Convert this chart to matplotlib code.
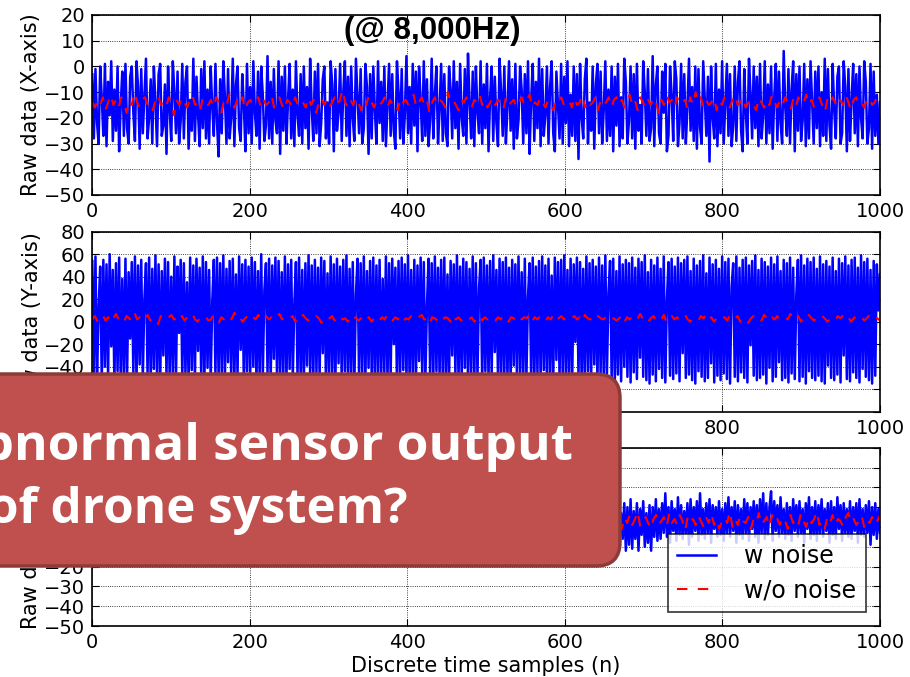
import numpy as np
import matplotlib
matplotlib.use("Agg")
import matplotlib.pyplot as plt
from matplotlib import font_manager
from matplotlib.patches import FancyBboxPatch

# accelerometer samples, 500 points per axis (w noise), 300 points (w/o noise)
x_noise = [
    -3, -28, -1, -22, -30, 0, -12, -27, 1, -31, -6, -19, 2, -29, -9, -25, 0, -33, -15, -2,
    -27, 1, -24, -30, -4, 0, -18, -29, 2, -8, -32, -1, -26, -11, 3, -28, -20, -5, -30, 0,
    -14, -31, -3, 1, -27, -23, -7, -34, 0, -17, -29, 2, -10, -26, -2, -30, -21, 1, -28, -6,
    0, -32, -13, -25, 3, -29, -4, -19, -31, -1, -24, 2, -28, -9, -30, 0, -16, -27, 1, -22,
    -35, -5, -26, 2, -12, -30, -1, -28, -20, 3, -31, -7, 0, -24, -29, -3, -15, -33, 1, -26,
    -8, -30, 2, -18, -27, -2, -32, 0, -11, -29, -23, 4, -28, -6, -30, -1, -21, -26, 2, -34,
    -4, -25, 0, -30, -13, 1, -28, -9, -31, 2, -19, -27, -3, -30, 0, -24, -8, -32, 3, -16,
    -29, -2, -26, 1, -31, -22, -5, 0, -28, -14, -30, 2, -7, -33, -1, -25, -18, 1, -29, -10,
    2, -27, -4, -31, 0, -20, -29, 3, -12, -26, -1, -30, -24, 1, -8, -34, -3, -28, 0, -17,
    -30, 2, -22, -6, -29, 0, -31, -15, 1, -27, -3, -25, -32, 2, -10, -28, -1, -30, -19, 4,
    -26, -8, -30, 1, -23, -2, -33, 0, -13, -29, 2, -27, -5, -31, -21, 3, -28, -11, 0, -30,
    -17, 1, -29, -3, -26, -31, 0, -9, -28, 2, -24, -6, -32, 1, -20, -27, -1, -30, 5, -14,
    -28, -2, -31, 0, -18, -26, 2, -30, -7, -24, 1, -33, -12, 0, -29, -4, -22, -31, 3, -10,
    -27, 0, -30, -16, 2, -25, -5, -32, 1, -28, -21, 0, -9, -30, -3, -26, 2, -34, -13, 1,
    -29, -6, -24, 3, -31, -1, -27, -19, 0, -30, -8, 2, -26, -33, -2, -15, -28, 1, -30, -4,
    -22, 2, -31, -11, -27, 0, -29, -3, -36, 1, -20, -28, -5, 3, -30, -14, -25, 0, -32, -7,
    1, -26, -2, -30, -17, 2, -29, -9, -27, 0, -33, -4, -23, 1, -31, -12, -28, 3, -6, -30,
    -21, 0, -28, -3, -32, 1, -25, -15, -30, 2, -10, -27, -1, -29, -24, 4, -31, -7, 0, -26,
    -30, -2, -18, 1, -33, -27, 0, -11, -29, 2, -5, -31, -22, 1, -28, -3, -30, -16, 3, -25,
    -8, -29, 0, -32, -1, -24, -30, 2, -13, -27, -4, -37, 0, -20, -28, 1, -31, -9, -26, 2,
    -30, -14, 1, -27, -3, -31, -23, 0, -29, -6, 2, -25, -33, -1, -18, -30, 3, -11, -28, 0,
    -24, -4, -31, 1, -28, -19, 2, -30, -7, -26, 0, -32, -12, 1, -29, -2, -22, -30, 6, -16,
    -27, -1, -30, -9, 2, -33, -3, -25, 0, -29, -21, 1, -31, -5, -28, 2, -14, -30, -2, -24,
    0, -31, -10, -27, 3, -29, -1, -23, -32, 1, -17, -28, -4, 0, -30, -26, 2, -8, -33, -1,
    -29, -13, 1, -26, -3, -31, 0, -20, -28, 2, -6, -30, -24, 1, -32, -2, -27, -11, -30, -14,
]
x_clean = [
    -14, -16, -13, -15, -12, -17, -14, -11, -15, -13,
    -16, -12, -14, -18, -13, -15, -10, -14, -16, -13,
    -12, -15, -14, -17, -13, -11, -15, -14, -16, -12,
    -14, -19, -13, -15, -12, -14, -16, -13, -11, -15,
    -14, -17, -12, -14, -15, -13, -16, -12, -14, -18,
    -13, -15, -11, -14, -16, -13, -15, -12, -17, -14,
    -13, -15, -14, -12, -16, -13, -15, -14, -11, -16,
    -14, -12, -15, -17, -13, -14, -16, -12, -15, -13,
    -14, -16, -12, -15, -13, -18, -14, -12, -15, -13,
    -16, -14, -12, -15, -13, -9, -14, -16, -13, -15,
    -12, -14, -17, -13, -15, -11, -14, -16, -13, -15,
    -14, -12, -16, -13, -15, -14, -17, -12, -14, -13,
    -15, -13, -11, -16, -14, -12, -15, -13, -18, -14,
    -12, -15, -13, -14, -16, -10, -14, -13, -15, -17,
    -13, -14, -12, -15, -16, -13, -14, -11, -15, -13,
    -16, -14, -12, -15, -13, -14, -17, -12, -15, -14,
    -13, -16, -14, -12, -15, -13, -11, -16, -14, -15,
    -12, -14, -16, -13, -15, -17, -13, -14, -12, -15,
    -14, -13, -16, -12, -15, -14, -11, -16, -13, -15,
    -14, -12, -17, -13, -15, -14, -12, -16, -13, -12,
    -15, -13, -16, -14, -11, -15, -13, -17, -12, -14,
    -16, -13, -15, -12, -14, -18, -13, -15, -11, -14,
    -13, -16, -12, -15, -14, -13, -17, -12, -15, -10,
    -14, -12, -16, -13, -15, -14, -12, -17, -13, -15,
    -12, -14, -16, -13, -11, -15, -14, -12, -16, -14,
    -13, -15, -17, -12, -14, -16, -13, -15, -11, -14,
    -16, -13, -15, -12, -14, -17, -13, -16, -12, -15,
    -14, -11, -15, -13, -16, -14, -12, -15, -18, -13,
    -15, -12, -14, -16, -13, -15, -11, -14, -17, -13,
    -12, -15, -14, -16, -13, -12, -15, -14, -11, -13,
]

y_noise = [
    54, -47, 58, -50, 12, 49, -53, 55, -40, 51, -49, 60, -22, 46, -55, 52, -44, 57, -51, 38,
    -48, 56, -52, 44, -15, 53, -46, 58, -54, 50, -38, 55, -50, 20, 52, -47, 57, -53, 47, -42,
    59, -49, 51, -55, 45, -30, 56, -48, 53, -51, 40, -45, 58, -53, 49, -10, 55, -50, 52, -47,
    35, -54, 57, -43, 50, -52, 56, -26, 48, -49, 58, -55, 53, -41, 46, -51, 18, 55, -48, 57,
    -50, 52, -45, 59, -53, 47, -36, 54, -49, 56, -52, 42, -47, 58, -25, 51, -54, 55, -44, 49,
    -51, 57, -40, 53, -55, 45, -48, 60, -50, 28, 52, -46, 56, -53, 50, -33, 57, -49, 54, -52,
    44, -47, 58, -54, 51, -42, 55, -50, 16, 53, -48, 57, -51, 46, -55, 52, -39, 59, -46, 50,
    -53, 55, -45, 48, -50, 57, -28, 54, -52, 43, -49, 58, -47, 51, -54, 56, -37, 49, -51, 55,
    -44, 59, -53, 47, -48, 53, -55, 24, 56, -50, 52, -46, 58, -52, 45, -41, 54, -49, 57, -54,
    50, -47, 55, -51, 38, -45, 58, -53, 52, -49, 56, -20, 48, -55, 54, -48, 57, -43, 51, -50,
    59, -52, 46, -47, 55, -54, 50, -35, 57, -49, 53, -51, 14, 56, -46, 52, -53, 58, -44, 48,
    -50, 55, -48, 57, -55, 42, -52, 54, -30, 51, -47, 59, -53, 49, -50, 56, -41, 53, -54, 47,
    -46, 58, -51, 52, -49, 30, 55, -55, 57, -44, 50, -52, 54, -48, 59, -27, 46, -50, 56, -53,
    53, -47, 57, -52, 48, -54, 55, -39, 51, -49, 58, -45, 44, -53, 56, -50, 22, 52, -48, 57,
    -55, 49, -46, 54, -51, 58, -43, 50, -53, 56, -48, 41, -52, 57, -34, 53, -50, 55, -47, 59,
    -52, 46, -49, 56, -54, 51, -18, 57, -48, 53, -55, 47, -50, 58, -44, 52, -51, 55, -38, 49,
    -53, 57, -46, 50, -52, 59, -48, 26, 54, -50, 56, -55, 45, -47, 58, -53, 51, -40, 55, -49,
    52, -54, 57, -45, 48, -51, 56, -32, 53, -49, 59, -52, 44, -55, 55, -47, 50, -53, 57, -42,
    47, -50, 58, -54, 19, 53, -48, 56, -51, 49, -46, 57, -53, 52, -28, 55, -50, 58, -47, 45,
    -52, 56, -55, 50, -44, 54, -49, 59, -53, 43, -50, 57, -37, 51, -54, 55, -48, 47, -52, 58,
    -46, 53, -51, 56, -55, 31, 52, -49, 58, -53, 48, -45, 55, -50, 57, -54, 50, -21, 54, -48,
    59, -52, 46, -50, 56, -47, 53, -55, 49, -41, 57, -53, 51, -49, 58, -36, 45, -52, 55, -50,
    52, -54, 57, -46, 48, -51, 25, 55, -53, 59, -49, 50, -55, 56, -44, 53, -50, 57, -52, 47,
    -48, 58, -53, 51, -55, 54, -39, 49, -50, 57, -52, 45, -47, 56, -54, 52, -30, 58, -51, 50,
    -53, 55, -45, 57, -50, 48, -54, 59, -42, 53, -49, 56, -52, 46, -55, 54, -48, 51, 10, 42,
]
y_clean = [
    2, 5, 0, 3, 6, 1, 4, -1, 3, 7,
    2, 4, 0, 5, 3, 1, 8, 2, 4, 0,
    3, 6, 1, 4, 2, -2, 5, 3, 1, 4,
    6, 2, 3, 0, 5, 1, 4, 3, 7, 2,
    0, 4, 3, 5, 1, 2, 6, 3, -1, 4,
    2, 5, 1, 3, 8, 2, 4, 0, 3, 5,
    1, 4, 2, 6, 3, 0, 5, 2, 4, 1,
    3, 7, 2, 4, 1, 3, 5, 0, 4, 2,
    6, 3, 1, 4, 2, 5, 3, -1, 4, 2,
    3, 5, 1, 4, 6, 2, 3, 0, 5, 2,
    4, 1, 3, 6, 2, 4, 0, 3, 5, 1,
    4, 2, 7, 3, 1, 4, 2, 5, 0, 3,
    2, 5, 3, 1, 4, 6, 2, 3, -2, 4,
    3, 1, 5, 2, 4, 3, 0, 6, 2, 4,
    1, 3, 5, 2, 4, 0, 3, 6, 1, 4,
    2, 5, 3, 1, 4, 2, 6, 3, 0, 4,
    3, 1, 5, 2, 4, 3, 7, 1, 4, 2,
    5, 3, 0, 4, 2, 6, 1, 3, 5, 2,
    4, 1, 3, 5, 2, 4, 0, 6, 3, 2,
    4, 1, 5, 3, 2, 4, 6, 2, 3, 1,
    3, 6, 0, 4, 2, 5, 1, 3, 7, 2,
    4, 0, 3, 5, 1, 4, 2, 6, -1, 3,
    5, 2, 4, 1, 3, 6, 2, 0, 4, 3,
    1, 5, 3, 7, 2, 4, 0, 3, 5, 2,
    4, 1, 6, 2, 3, 5, 0, 4, 2, -1,
    3, 5, 2, 4, 1, 6, 3, 0, 4, 2,
    5, 1, 3, 4, 2, 7, 1, 3, 5, 0,
    4, 2, 6, 3, 1, 4, 2, 5, 3, 0,
    2, 4, 1, 5, 3, 6, 2, 4, 0, 3,
    5, 2, 4, 1, 3, 6, 2, 4, 3, 1,
]

z_noise = [
    9, -4, 12, -6, 3, 10, -8, 6, -2, 13, -5, 8, -9, 11, 0, -6, 14, -3, 7, -7,
    10, -1, 12, -8, 5, -4, 15, -6, 9, -10, 7, 1, -5, 13, -3, 8, -7, 11, -2, 6,
    -9, 12, -4, 9, -6, 14, 0, -8, 10, -3, 7, -11, 13, -5, 8, 2, -7, 11, -4, 9,
    -2, 15, -6, 8, -9, 12, -3, 6, -5, 13, 1, -8, 10, -4, 11, -7, 7, -1, 14, -6,
    8, -10, 12, -3, 9, -5, 16, -7, 6, -2, 11, -9, 13, 0, -6, 10, -4, 8, -8, 12,
    -3, 9, -7, 14, -5, 7, -1, 11, -10, 13, -4, 8, -6, 12, 2, -8, 10, -3, 15, -5,
    6, -9, 11, -2, 9, -7, 13, -4, 8, -11, 12, 0, -6, 10, -3, 14, -8, 7, -5, 11,
    -1, 13, -7, 9, -4, 12, -9, 6, -2, 15, -6, 10, -5, 8, -10, 12, -3, 11, 1, -7,
    14, -4, 8, -8, 11, -2, 13, -6, 7, -9, 10, -3, 16, -5, 9, -7, 12, 0, -4, 11,
    -8, 10, -5, 13, -2, 7, -10, 12, -4, 9, -6, 14, -1, 8, -7, 11, -3, 13, -9, 6,
    12, -5, 10, -8, 15, -3, 7, -6, 11, 0, -9, 13, -4, 9, -7, 12, -2, 8, -11, 14,
    -4, 9, -6, 12, -1, 10, -8, 13, -3, 7, -10, 11, -5, 15, -2, 8, -7, 12, -4, 10,
    -6, 13, -3, 9, -9, 11, 1, -5, 14, -7, 8, -2, 12, -6, 10, -4, 13, -8, 9, -3,
    11, -7, 15, -4, 8, -10, 12, -2, 9, -6, 13, -5, 7, -9, 11, -1, 14, -4, 10, -8,
    12, -3, 8, -7, 13, -5, 10, -2, 16, -6, 9, -8, 11, -4, 7, -10, 14, 0, -5, 12,
    -7, 9, -3, 13, -9, 11, -5, 8, -1, 14, -6, 10, -8, 12, -4, 15, -2, 9, -11, 13,
    -5, 8, -9, 12, -3, 10, -7, 14, -4, 9, -10, 11, -2, 13, -8, 7, -6, 12, -12, 10,
    -9, 14, -11, 8, -6, 12, -12, 9, -4, 13, -10, 7, -8, 11, -12, 10, -5, 14, -7, 9,
    -6, 12, -3, 17, -5, 10, -8, 13, -2, 9, -7, 15, -4, 11, -6, 8, -3, 12, -9, 14,
    -5, 10, -2, 13, -7, 17, -4, 9, -6, 12, -3, 14, -8, 11, -1, 10, -5, 13, -4, 9,
    -7, 12, -3, 15, -5, 10, -2, 13, -8, 11, -4, 9, -6, 14, -3, 12, -7, 10, -1, 13,
    -5, 11, -8, 14, -3, 17, -6, 12, -4, 10, 18, -7, 13, -2, 11, -5, 15, -3, 9, -6,
    12, -4, 10, -7, 14, -2, 11, -5, 13, -3, 9, -8, 12, -1, 15, -6, 10, -4, 13, -7,
    11, -3, 14, -5, 9, -2, 12, -8, 13, -4, 10, -6, 15, -1, 11, -7, 12, -3, 9, -5,
    13, -6, 10, -2, 12, -8, 14, -4, 9, -5, 11, -3, 13, -9, 10, -4, 12, -6, 9, -3,
]
z_clean = [
    3, 0, 5, 2, -1, 4, 6, 1, 3, -2,
    5, 2, 4, 0, 7, 3, 1, 5, -1, 4,
    2, 6, 0, 3, 5, 1, 4, -2, 6, 2,
    3, 0, 5, 4, 1, 7, 2, -1, 4, 3,
    1, 5, 2, 6, 0, 3, 4, -1, 5, 2,
    4, 1, 6, 3, 0, 5, 2, 7, 1, 3,
    -1, 4, 2, 5, 3, 0, 6, 1, 4, 2,
    5, 3, -2, 4, 1, 6, 2, 3, 0, 5,
    2, 4, 1, 7, 3, -1, 5, 2, 4, 0,
    3, 6, 1, 4, 2, 5, 0, 3, 8, 1,
    4, 2, 5, -1, 3, 6, 1, 4, 2, 0,
    5, 3, 7, 1, 4, -2, 3, 5, 2, 6,
    0, 4, 2, 8, 1, 3, 5, -1, 4, 2,
    6, 1, 3, 0, 5, 4, 2, 7, -1, 3,
    4, 2, 6, 1, 5, 3, 0, 4, 8, 2,
    5, -1, 3, 6, 1, 4, 2, 7, 0, 3,
    4, 1, 5, 2, 8, 0, 3, 6, 1, 4,
    2, 7, 3, -1, 5, 2, 6, 1, 4, 3,
    0, 5, 2, 7, 1, 4, 3, 6, 0, 5,
    2, 4, 7, 1, 3, 5, 0, 4, 6, 2,
    3, -1, 5, 2, 6, 1, 4, 8, 0, 3,
    5, 2, -1, 4, 6, 1, 3, 5, 0, 7,
    2, 4, 1, 6, 3, -2, 5, 2, 4, 1,
    6, 3, 0, 5, 2, 7, 1, 4, -1, 3,
    5, 2, 8, 0, 4, 1, 6, 3, 2, 5,
    -1, 4, 2, 7, 1, 3, 5, 0, 6, 2,
    4, 1, 5, 3, -1, 6, 2, 4, 1, 7,
    3, 0, 5, 2, 4, 8, 1, 3, -1, 5,
    2, 6, 1, 4, 3, 0, 5, 7, 2, 4,
    1, 3, 6, 0, 4, 2, 5, 1, 3, 6,
]

panels = [
    ("Raw data (X-axis)", x_noise, x_clean, (-50, 20), 10),
    ("Raw data (Y-axis)", y_noise, y_clean, (-70, 80), 20),
    ("Raw data (Z-axis)", z_noise, z_clean, (-50, 40), 10),
]

# Arial-like bold for the title (avoid the Narrow variant)
title_font = None
for f in font_manager.fontManager.ttflist:
    if f.fname.endswith("LiberationSans-Bold.ttf"):
        title_font = font_manager.FontProperties(fname=f.fname, size=22.5)
        break
if title_font is None:
    title_font = font_manager.FontProperties(family="DejaVu Sans",
                                             weight="bold", size=21)

fig = plt.figure(figsize=(9.1, 6.77), dpi=100)
fig.patch.set_facecolor("white")

W, H = 910.0, 677.0
left, right = 92.3, 880.0
tops = [15.0, 231.7, 447.7]
bottoms = [195.0, 411.7, 626.0]

axes = []
for (ylab, noisy, clean, ylim, step), t, b in zip(panels, tops, bottoms):
    ax = fig.add_axes([left / W, 1 - b / H, (right - left) / W, (b - t) / H])
    xn = np.linspace(0, 1000, len(noisy))
    xc = np.linspace(0, 1000, len(clean))
    ax.plot(xn, noisy, color="b", lw=1.8, label="w noise")
    ax.plot(xc, clean, color="r", lw=1.5, ls=(0, (5, 5)), label="w/o noise")
    ax.set_xlim(0, 1000)
    ax.set_ylim(*ylim)
    ax.set_xticks(range(0, 1001, 200))
    ax.set_yticks(np.arange(ylim[0] - ylim[0] % step, ylim[1] + 1, step))
    ax.grid(True, color="k", ls=":", lw=0.6)
    ax.tick_params(direction="in", top=True, right=True, length=5,
                   labelsize=14, pad=5)
    for s in ax.spines.values():
        s.set_linewidth(1.2)
    ax.set_ylabel(ylab, fontsize=15, labelpad=2)
    axes.append(ax)

axes[2].set_xlabel("Discrete time samples (n)", fontsize=15, labelpad=3)
leg = axes[2].legend(loc="lower right", fontsize=17, fancybox=False,
                     handlelength=1.65, handletextpad=1.2, labelspacing=0.45,
                     borderaxespad=0.6, borderpad=0.4)
leg.get_frame().set_edgecolor("k")
leg.get_frame().set_linewidth(1.2)

fig.align_ylabels(axes)

fig.text(432 / W, 1 - 38.5 / H, "(@ 8,000Hz)", ha="center", va="baseline",
         fontproperties=title_font)

# callout box over the plots
box = FancyBboxPatch((-0.4, (H - 566.0) / 100), 6.6, (566.0 - 374.0) / 100,
                     boxstyle="round,pad=0,rounding_size=0.24",
                     transform=fig.dpi_scale_trans, facecolor="#C0504D",
                     edgecolor="#8E3A38", linewidth=2.5, zorder=10)
fig.add_artist(box)
fig.text(573 / W, 1 - 460 / H, "Abnormal sensor output", ha="right",
         va="baseline", fontsize=37, fontweight="bold", family="Open Sans",
         color="white", zorder=11)
fig.text(407 / W, 1 - 523 / H, "of drone system?", ha="right",
         va="baseline", fontsize=35.5, fontweight="bold", family="Open Sans",
         color="white", zorder=11)

fig.savefig("out.png", dpi=100, facecolor="white")
